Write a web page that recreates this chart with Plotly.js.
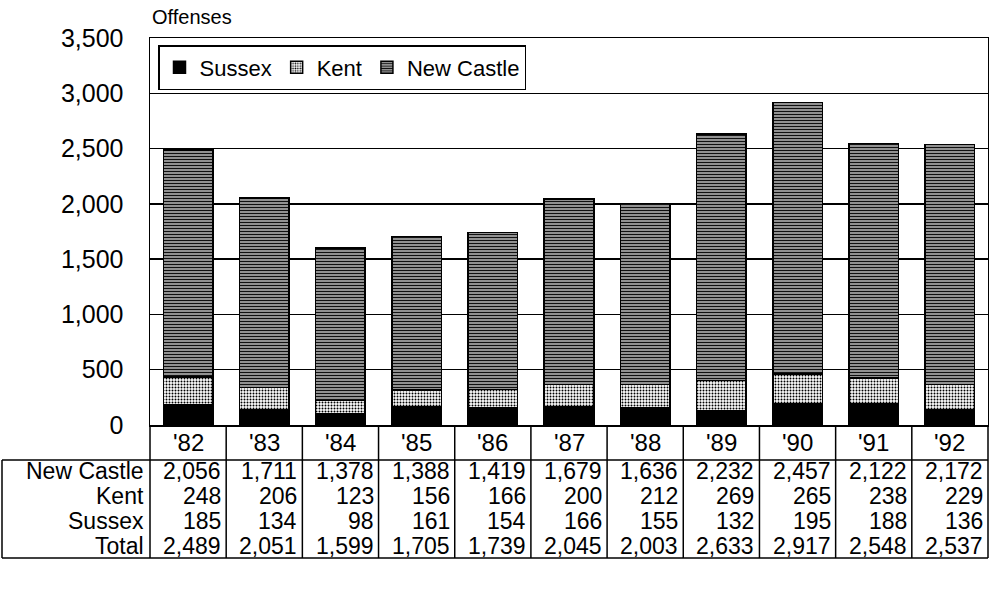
<!DOCTYPE html>
<html><head><meta charset="utf-8">
<script src="https://cdn.plot.ly/plotly-3.0.1.min.js"></script>
<style>body{margin:0;background:#fff}#c{width:989px;height:612px}</style>
</head><body><div id="c"></div>
<script>
const years = ["'82","'83","'84","'85","'86","'87","'88","'89","'90","'91","'92"];
const newCastle = [2056,1711,1378,1388,1419,1679,1636,2232,2457,2122,2172];
const kent = [248,206,123,156,166,200,212,269,265,238,229];
const sussex = [185,134,98,161,154,166,155,132,195,188,136];
const total = [2489,2051,1599,1705,1739,2045,2003,2633,2917,2548,2537];
const rowLabels = ["New Castle","Kent","Sussex","Total"];
const rowValues = [newCastle, kent, sussex, total];

const FONT = "Arial, 'Liberation Sans', sans-serif";
const fmt = v => v.toLocaleString('en-US');

const W = 989, H = 612, L = 150, R = 1, T = 38, B = 187;
const plotH = H - T - B, plotW = W - L - R;
const py = p => (H - B - p) / plotH;   // pixel y -> paper y
const px = p => (p - L) / plotW;       // pixel x -> paper x

const traces = [
  {type:'bar', name:'Sussex', x:years, y:sussex,
   marker:{color:'#000', line:{color:'#000', width:1.5}}},
  {type:'bar', name:'Kent', x:years, y:kent,
   marker:{color:'#fff', line:{color:'#000', width:1.5},
           pattern:{shape:'.', fgcolor:'#000', bgcolor:'#fff', size:3, solidity:0.35}}},
  {type:'bar', name:'New Castle', x:years, y:newCastle,
   marker:{color:'#fff', line:{color:'#000', width:1.5},
           pattern:{shape:'-', fgcolor:'#111', bgcolor:'#bbb', size:3, solidity:0.5}}}
];

const annotations = [];
const shapes = [];
annotations.push({xref:'paper', yref:'paper', x:px(150), y:py(17), xanchor:'left', yanchor:'middle',
  text:'Offenses', showarrow:false, font:{family:FONT, size:20, color:'#000'}});

// header row years
years.forEach((yr,i)=>{
  annotations.push({xref:'x', yref:'paper', x:i, y:py(442), xanchor:'center', yanchor:'middle',
    text:yr, showarrow:false, font:{family:FONT, size:24, color:'#000'}});
});
const rowY = [471, 496, 521, 546];
rowLabels.forEach((lab,r)=>{
  annotations.push({xref:'paper', yref:'paper', x:px(146), y:py(rowY[r]), xanchor:'right', yanchor:'middle',
    text:lab, showarrow:false, font:{family:FONT, size:23, color:'#000'}});
  rowValues[r].forEach((v,i)=>{
    annotations.push({xref:'x', yref:'paper', x:i+0.5, y:py(rowY[r]), xanchor:'right', yanchor:'middle',
      xshift:-3, text:fmt(v), showarrow:false, font:{family:FONT, size:23, color:'#000'}});
  });
});

// table grid
const line = {color:'#000', width:1.5};
shapes.push({type:'line', xref:'paper', yref:'paper', x0:px(2), x1:1, y0:py(460), y1:py(460), line});
shapes.push({type:'line', xref:'paper', yref:'paper', x0:px(2), x1:1, y0:py(558), y1:py(558), line});
shapes.push({type:'line', xref:'paper', yref:'paper', x0:px(2), x1:px(2), y0:py(460), y1:py(558), line});
for (let k=0;k<=years.length;k++){
  const xp = k/years.length;
  shapes.push({type:'line', xref:'paper', yref:'paper', x0:xp, x1:xp, y0:0, y1:py(558), line});
}

const layout = {
  width:W, height:H, margin:{l:L, r:R, t:T, b:B},
  paper_bgcolor:'#fff', plot_bgcolor:'#fff',
  barmode:'stack', bargap:0.35,
  font:{family:FONT, color:'#000'},
  showlegend:true,
  legend:{orientation:'h', x:px(158), y:py(45), xanchor:'left', yanchor:'top',
    bordercolor:'#000', borderwidth:1.5, bgcolor:'#fff', traceorder:'normal',
    font:{family:FONT, size:22, color:'#000'}, itemwidth:30, tracegroupgap:0},
  xaxis:{type:'category', range:[-0.5, years.length-0.5], showticklabels:false, ticks:'',
    showgrid:false, zeroline:false,
    showline:true, linecolor:'#000', linewidth:1.5, mirror:true, fixedrange:true},
  yaxis:{range:[0,3500], dtick:500, tickformat:',d', showgrid:true, gridcolor:'#000', gridwidth:1.5,
    zeroline:false, showline:true, linecolor:'#000', linewidth:1.5, mirror:true,
    ticks:'outside', ticklen:20, tickcolor:'rgba(0,0,0,0)',
    tickfont:{family:FONT, size:25, color:'#000'}},
  annotations, shapes
};
Plotly.newPlot('c', traces, layout, {displayModeBar:false, staticPlot:true});
</script></body></html>
